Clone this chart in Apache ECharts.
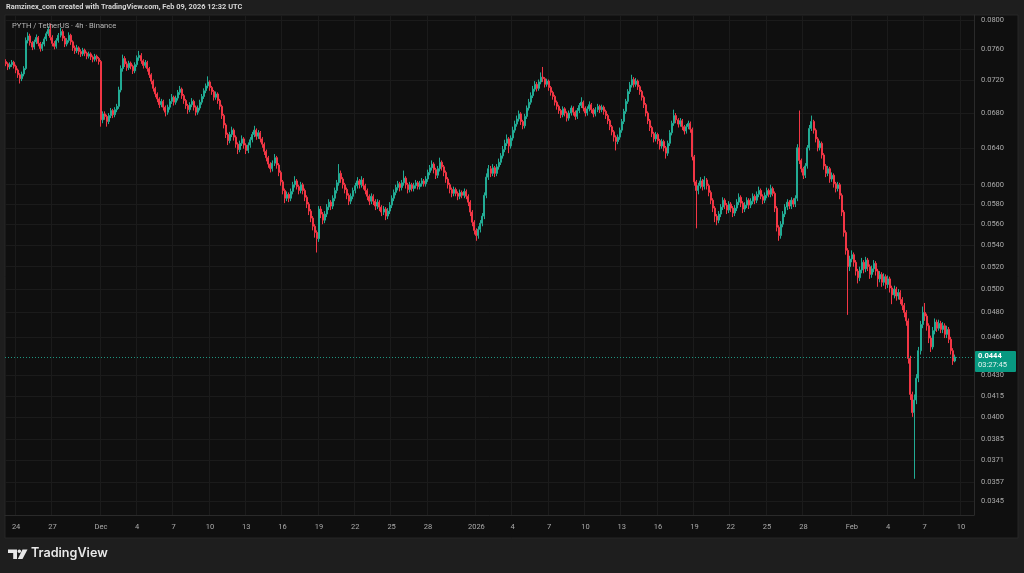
<!DOCTYPE html>
<html><head><meta charset="utf-8">
<script src="https://cdn.jsdelivr.net/npm/echarts@6/dist/echarts.min.js"></script>
<style>html,body{margin:0;padding:0;background:#1e1e1e;}#c{width:1024px;height:573px;}</style>
</head><body><div id="c"></div>
<script>
// ---- data ----
const startTimeUTC = Date.UTC(2025, 10, 23, 4); // first 4h candle
const slotCount = 480;
const firstOpen = 0.0744;
const closes = [.0741,.0737,.0740,.0743,.0738,.0733,.0727,.0722,.0728,.0735,
.0772,.0778,.0769,.0763,.0770,.0776,.0768,.0761,.0767,.0774,
.0781,.0787,.0776,.0768,.0764,.0772,.0779,.0784,.0775,.0767,
.0772,.0779,.0770,.0762,.0758,.0762,.0757,.0754,.0759,.0755,
.0751,.0754,.0750,.0747,.0751,.0748,.0744,.0672,.0679,.0676,
.0670,.0677,.0683,.0678,.0684,.0688,.0708,.0735,.0748,.0741,
.0736,.0742,.0738,.0732,.0740,.0749,.0752,.0745,.0739,.0743,
.0735,.0727,.0719,.0710,.0703,.0697,.0690,.0694,.0687,.0681,
.0687,.0694,.0699,.0693,.0698,.0705,.0709,.0701,.0695,.0689,
.0684,.0690,.0694,.0687,.0681,.0686,.0693,.0700,.0707,.0713,
.0718,.0711,.0706,.0699,.0703,.0695,.0688,.0677,.0666,.0655,
.0648,.0655,.0660,.0652,.0644,.0638,.0645,.0650,.0643,.0637,
.0643,.0649,.0655,.0660,.0653,.0657,.0650,.0644,.0636,.0629,
.0622,.0617,.0623,.0629,.0621,.0613,.0603,.0594,.0586,.0590,
.0586,.0593,.0600,.0604,.0598,.0594,.0600,.0594,.0587,.0580,
.0573,.0566,.0558,.0552,.0546,.0575,.0570,.0564,.0570,.0577,
.0582,.0578,.0586,.0594,.0602,.0612,.0606,.0600,.0595,.0589,
.0583,.0588,.0594,.0599,.0604,.0600,.0605,.0599,.0594,.0588,
.0583,.0588,.0583,.0578,.0582,.0577,.0572,.0575,.0568,.0573,
.0579,.0586,.0592,.0597,.0601,.0597,.0602,.0607,.0600,.0595,
.0600,.0596,.0599,.0602,.0598,.0601,.0604,.0601,.0606,.0613,
.0618,.0622,.0616,.0610,.0617,.0624,.0619,.0613,.0606,.0600,
.0595,.0591,.0595,.0591,.0588,.0592,.0589,.0593,.0588,.0582,
.0572,.0562,.0554,.0549,.0555,.0561,.0568,.0589,.0608,.0617,
.0612,.0618,.0612,.0619,.0624,.0631,.0638,.0645,.0650,.0642,
.0651,.0660,.0667,.0673,.0679,.0670,.0665,.0676,.0686,.0693,
.0701,.0709,.0715,.0710,.0718,.0724,.0722,.0715,.0719,.0711,
.0705,.0700,.0693,.0688,.0683,.0678,.0685,.0680,.0674,.0680,
.0686,.0681,.0676,.0683,.0689,.0693,.0686,.0680,.0685,.0690,
.0684,.0679,.0684,.0688,.0684,.0687,.0682,.0677,.0671,.0664,
.0658,.0652,.0647,.0652,.0660,.0670,.0682,.0694,.0706,.0714,
.0721,.0715,.0719,.0712,.0706,.0699,.0690,.0680,.0671,.0663,
.0656,.0650,.0655,.0648,.0642,.0647,.0640,.0634,.0645,.0657,
.0668,.0677,.0672,.0667,.0671,.0664,.0659,.0664,.0668,.0661,
.0630,.0603,.0594,.0599,.0604,.0598,.0605,.0599,.0592,.0584,
.0576,.0568,.0564,.0570,.0577,.0584,.0579,.0574,.0580,.0576,
.0571,.0576,.0582,.0587,.0581,.0575,.0579,.0584,.0579,.0583,
.0588,.0584,.0590,.0594,.0588,.0584,.0589,.0594,.0590,.0596,
.0591,.0576,.0557,.0549,.0560,.0570,.0577,.0582,.0578,.0584,
.0580,.0586,.0640,.0626,.0617,.0610,.0620,.0640,.0662,.0670,
.0660,.0650,.0640,.0645,.0632,.0620,.0612,.0617,.0606,.0610,
.0601,.0596,.0600,.0589,.0572,.0552,.0535,.0520,.0527,.0531,
.0524,.0516,.0510,.0517,.0524,.0518,.0526,.0520,.0513,.0518,
.0523,.0516,.0509,.0513,.0506,.0511,.0504,.0509,.0501,.0495,
.0500,.0494,.0497,.0491,.0486,.0480,.0473,.0443,.0416,.0403,
.0412,.0428,.0449,.0470,.0480,.0477,.0469,.0459,.0452,.0465,
.0472,.0467,.0471,.0466,.0469,.0462,.0466,.0458,.0449,.0441,
.0444];
const highs = [.0747,.0743,.0743,.0746,.0745,.0740,.0735,.0729,.0731,.0738,
.0776,.0783,.0781,.0771,.0773,.0780,.0778,.0770,.0770,.0777,
.0784,.0791,.0795,.0779,.0771,.0775,.0782,.0789,.0787,.0778,
.0775,.0783,.0781,.0772,.0765,.0766,.0764,.0760,.0762,.0761,
.0757,.0757,.0756,.0752,.0754,.0753,.0750,.0746,.0682,.0682,
.0678,.0680,.0686,.0685,.0687,.0691,.0712,.0739,.0753,.0751,
.0744,.0745,.0744,.0740,.0743,.0752,.0758,.0755,.0747,.0746,
.0745,.0737,.0729,.0721,.0712,.0705,.0699,.0697,.0696,.0689,
.0690,.0697,.0703,.0701,.0701,.0708,.0713,.0711,.0703,.0697,
.0691,.0693,.0698,.0696,.0689,.0689,.0696,.0703,.0710,.0716,
.0725,.0720,.0713,.0708,.0706,.0705,.0697,.0690,.0679,.0668,
.0657,.0658,.0664,.0662,.0654,.0646,.0648,.0654,.0652,.0645,
.0646,.0652,.0658,.0665,.0662,.0660,.0659,.0652,.0646,.0638,
.0631,.0624,.0626,.0633,.0631,.0623,.0615,.0605,.0596,.0593,
.0592,.0596,.0603,.0609,.0606,.0600,.0603,.0602,.0596,.0589,
.0582,.0575,.0568,.0560,.0554,.0578,.0578,.0572,.0573,.0580,
.0585,.0584,.0589,.0597,.0605,.0622,.0615,.0608,.0602,.0597,
.0591,.0591,.0597,.0602,.0608,.0606,.0609,.0607,.0601,.0596,
.0590,.0591,.0590,.0585,.0585,.0584,.0579,.0578,.0577,.0576,
.0582,.0589,.0595,.0600,.0604,.0603,.0605,.0615,.0609,.0602,
.0603,.0602,.0602,.0605,.0604,.0604,.0607,.0606,.0609,.0616,
.0621,.0626,.0624,.0618,.0620,.0629,.0626,.0621,.0615,.0608,
.0602,.0597,.0598,.0597,.0593,.0595,.0594,.0596,.0595,.0590,
.0584,.0574,.0564,.0556,.0558,.0564,.0571,.0592,.0612,.0621,
.0620,.0622,.0620,.0622,.0628,.0634,.0642,.0649,.0655,.0652,
.0654,.0664,.0671,.0677,.0683,.0681,.0672,.0679,.0689,.0697,
.0705,.0713,.0719,.0718,.0721,.0730,.0737,.0724,.0722,.0721,
.0713,.0707,.0702,.0695,.0690,.0685,.0688,.0687,.0682,.0683,
.0689,.0688,.0683,.0686,.0692,.0699,.0695,.0688,.0688,.0694,
.0692,.0686,.0687,.0691,.0690,.0690,.0689,.0684,.0679,.0673,
.0666,.0660,.0654,.0655,.0663,.0673,.0685,.0697,.0709,.0718,
.0727,.0724,.0723,.0721,.0714,.0708,.0701,.0692,.0682,.0673,
.0665,.0658,.0658,.0657,.0650,.0650,.0649,.0642,.0648,.0660,
.0671,.0684,.0680,.0674,.0674,.0673,.0666,.0667,.0671,.0670,
.0663,.0632,.0605,.0602,.0608,.0606,.0609,.0607,.0601,.0594,
.0586,.0578,.0570,.0573,.0580,.0587,.0586,.0581,.0583,.0582,
.0578,.0579,.0585,.0591,.0589,.0583,.0582,.0587,.0586,.0586,
.0591,.0590,.0593,.0598,.0596,.0590,.0592,.0597,.0596,.0600,
.0598,.0593,.0578,.0559,.0563,.0573,.0580,.0585,.0584,.0587,
.0586,.0589,.0644,.0683,.0628,.0619,.0623,.0643,.0666,.0677,
.0672,.0662,.0652,.0648,.0647,.0634,.0622,.0620,.0619,.0613,
.0612,.0603,.0603,.0602,.0591,.0574,.0554,.0537,.0530,.0535,
.0533,.0526,.0518,.0520,.0528,.0526,.0529,.0528,.0522,.0521,
.0526,.0525,.0518,.0516,.0515,.0514,.0513,.0512,.0511,.0503,
.0503,.0502,.0500,.0499,.0493,.0488,.0482,.0475,.0445,.0418,
.0416,.0431,.0452,.0473,.0485,.0488,.0479,.0471,.0461,.0468,
.0475,.0474,.0474,.0473,.0472,.0471,.0469,.0468,.0460,.0451,
.0446];
const lows = [.0738,.0733,.0734,.0737,.0735,.0729,.0723,.0716,.0719,.0725,
.0733,.0768,.0765,.0759,.0760,.0767,.0764,.0757,.0758,.0764,
.0771,.0778,.0772,.0764,.0760,.0761,.0769,.0776,.0771,.0763,
.0764,.0769,.0766,.0758,.0754,.0755,.0753,.0750,.0751,.0751,
.0747,.0748,.0746,.0743,.0744,.0744,.0740,.0664,.0668,.0672,
.0664,.0667,.0674,.0674,.0675,.0681,.0685,.0705,.0731,.0737,
.0732,.0733,.0734,.0728,.0729,.0737,.0745,.0741,.0735,.0736,
.0731,.0723,.0715,.0706,.0699,.0693,.0686,.0687,.0683,.0676,
.0678,.0684,.0691,.0689,.0690,.0695,.0702,.0697,.0691,.0685,
.0679,.0681,.0687,.0683,.0677,.0678,.0683,.0690,.0697,.0704,
.0710,.0707,.0702,.0695,.0696,.0691,.0684,.0673,.0662,.0651,
.0643,.0645,.0652,.0648,.0640,.0633,.0635,.0642,.0639,.0633,
.0634,.0640,.0646,.0652,.0649,.0650,.0646,.0640,.0632,.0625,
.0618,.0613,.0614,.0620,.0617,.0609,.0599,.0590,.0581,.0583,
.0582,.0583,.0590,.0597,.0595,.0590,.0591,.0590,.0583,.0576,
.0569,.0562,.0554,.0547,.0533,.0543,.0566,.0560,.0561,.0567,
.0574,.0574,.0575,.0583,.0591,.0599,.0602,.0596,.0591,.0585,
.0579,.0580,.0585,.0591,.0596,.0596,.0597,.0595,.0590,.0584,
.0579,.0580,.0579,.0574,.0575,.0573,.0568,.0569,.0564,.0565,
.0570,.0576,.0583,.0589,.0594,.0593,.0594,.0599,.0596,.0591,
.0592,.0593,.0593,.0596,.0595,.0595,.0598,.0598,.0598,.0603,
.0610,.0615,.0612,.0606,.0607,.0614,.0615,.0609,.0602,.0596,
.0591,.0587,.0588,.0588,.0584,.0585,.0586,.0586,.0585,.0578,
.0568,.0558,.0550,.0544,.0546,.0552,.0558,.0565,.0586,.0605,
.0608,.0609,.0608,.0609,.0616,.0621,.0628,.0635,.0642,.0634,
.0639,.0648,.0657,.0664,.0670,.0666,.0661,.0662,.0673,.0683,
.0690,.0698,.0706,.0706,.0707,.0715,.0718,.0711,.0712,.0707,
.0701,.0696,.0689,.0684,.0679,.0674,.0675,.0676,.0670,.0671,
.0677,.0677,.0672,.0673,.0680,.0686,.0682,.0676,.0677,.0682,
.0680,.0675,.0676,.0681,.0680,.0681,.0678,.0673,.0667,.0660,
.0654,.0647,.0637,.0644,.0649,.0657,.0667,.0679,.0691,.0703,
.0711,.0711,.0712,.0708,.0702,.0695,.0686,.0676,.0667,.0659,
.0652,.0646,.0647,.0644,.0638,.0639,.0636,.0628,.0631,.0642,
.0654,.0665,.0668,.0663,.0664,.0660,.0655,.0656,.0661,.0657,
.0626,.0599,.0556,.0590,.0596,.0594,.0595,.0595,.0588,.0580,
.0572,.0562,.0559,.0561,.0567,.0574,.0575,.0570,.0571,.0572,
.0567,.0568,.0573,.0579,.0577,.0571,.0572,.0576,.0575,.0576,
.0580,.0580,.0581,.0587,.0585,.0580,.0581,.0586,.0587,.0587,
.0588,.0572,.0553,.0544,.0546,.0557,.0567,.0574,.0575,.0575,
.0577,.0577,.0583,.0622,.0613,.0606,.0607,.0617,.0637,.0659,
.0656,.0646,.0636,.0637,.0628,.0616,.0608,.0609,.0602,.0603,
.0597,.0592,.0593,.0585,.0568,.0548,.0531,.0478,.0516,.0524,
.0520,.0512,.0505,.0507,.0514,.0514,.0515,.0516,.0509,.0510,
.0515,.0512,.0502,.0506,.0502,.0503,.0500,.0501,.0497,.0487,
.0492,.0490,.0491,.0487,.0482,.0476,.0469,.0439,.0412,.0400,
.0359,.0409,.0425,.0446,.0467,.0473,.0465,.0455,.0448,.0450,
.0462,.0464,.0465,.0463,.0463,.0459,.0459,.0455,.0446,.0438,
.0440];
const priceTicks = [0.0800,0.0760,0.0720,0.0680,0.0640,0.0600,0.0580,0.0560,0.0540,0.0520,0.0500,0.0480,0.0460,0.0430,0.0415,0.0400,0.0385,0.0371,0.0357,0.0345];
const dateTicks = ['2025-11-24','2025-11-27','2025-12-01','2025-12-04','2025-12-07','2025-12-10','2025-12-13','2025-12-16','2025-12-19','2025-12-22','2025-12-25','2025-12-28','2026-01-01','2026-01-04','2026-01-07','2026-01-10','2026-01-13','2026-01-16','2026-01-19','2026-01-22','2026-01-25','2026-01-28','2026-02-01','2026-02-04','2026-02-07','2026-02-10'];
const dateTickLabels = ['24','27','Dec','4','7','10','13','16','19','22','25','28','2026','4','7','10','13','16','19','22','25','28','Feb','4','7','10'];
const lastPrice = 0.0444;
const countdown = '03:27:45';
const headerText = 'Ramzinex_com created with TradingView.com, Feb 09, 2026 12:32 UTC';
const legendText = 'PYTH / TetherUS · 4h · Binance';

// ---- build ----
const pad = n => String(n).padStart(2, '0');
const categories = [];
for (let i = 0; i < slotCount; i++) {
  const d = new Date(startTimeUTC + i * 4 * 3600 * 1000);
  categories.push(d.getUTCFullYear() + '-' + pad(d.getUTCMonth() + 1) + '-' + pad(d.getUTCDate()) + ' ' + pad(d.getUTCHours()) + ':00');
}
const labelMap = new Map();
dateTicks.forEach((d, k) => labelMap.set(d + ' 00:00', dateTickLabels[k]));
const ohlc = closes.map((c, i) => [i === 0 ? firstOpen : closes[i - 1], c, lows[i], highs[i]]);

const UP = '#22ab94', DOWN = '#f23645';
const FONT = 'Roboto, "Noto Sans", sans-serif';
const chart = echarts.init(document.getElementById('c'), null, {renderer: 'canvas'});

const baseGraphic = [
  {id: 'panel', type: 'rect', z: -10, shape: {x: 5, y: 15, width: 1013, height: 523}, style: {fill: '#0f0f0f', stroke: '#262626', lineWidth: 1}},
  {id: 'hdr', type: 'text', z: 10, left: 6, top: 4, style: {text: headerText, fill: '#d6d6d6', font: 'bold 7.4px ' + FONT}},
  {id: 'leg', type: 'text', z: 10, left: 12, top: 22, style: {text: legendText, fill: '#b8b8b8', font: '7.6px ' + FONT}},
  {id: 'logoT', type: 'polygon', z: 10, shape: {points: [[8,549.5],[17,549.5],[17,559],[13.2,559],[13.2,553],[8,553]]}, style: {fill: '#e8e8e8'}},
  {id: 'logoDot', type: 'circle', z: 10, shape: {cx: 19.3, cy: 551.3, r: 1.8}, style: {fill: '#e8e8e8'}},
  {id: 'logoS', type: 'polygon', z: 10, shape: {points: [[22.5,549.5],[27.5,549.5],[22.5,559],[17.8,559]]}, style: {fill: '#e8e8e8'}},
  {id: 'logoTxt', type: 'text', z: 10, left: 31, top: 546.5, style: {text: 'TradingView', fill: '#e8e8e8', font: '600 12.6px Inter, ' + FONT}}
];

chart.setOption({
  backgroundColor: '#1e1e1e',
  animation: false,
  grid: {left: 5, right: 50, top: 15, bottom: 58},
  xAxis: {
    type: 'category', data: categories, boundaryGap: true,
    axisLine: {show: true, lineStyle: {color: '#2a2a2a'}},
    axisTick: {show: false},
    axisLabel: {interval: (i, v) => labelMap.has(v), formatter: v => labelMap.get(v) || '', color: '#ababab', fontSize: 7.5, fontFamily: FONT, margin: 8},
    splitLine: {show: true, interval: (i, v) => labelMap.has(v), lineStyle: {color: '#1b1b1b', width: 1}}
  },
  yAxis: {
    type: 'log', logBase: 10, position: 'right', min: 0.03370, max: 0.08070,
    axisLine: {show: true, lineStyle: {color: '#2a2a2a'}},
    axisTick: {show: false, customValues: priceTicks},
    axisLabel: {customValues: priceTicks, formatter: v => Number(v).toFixed(4), color: '#ababab', fontSize: 7.5, fontFamily: FONT, margin: 7},
    splitLine: {show: true, lineStyle: {color: '#1b1b1b', width: 1}}
  },
  series: [{
    type: 'candlestick', data: ohlc, barWidth: 1.5,
    itemStyle: {color: UP, color0: DOWN, borderColor: UP, borderColor0: DOWN, borderWidth: 1}
  }],
  graphic: baseGraphic
});

const py = Math.round(chart.convertToPixel({yAxisIndex: 0}, lastPrice));
chart.setOption({
  graphic: baseGraphic.concat([
    {id: 'pline', type: 'line', z: 5, shape: {x1: 5, y1: py + 0.5, x2: 974, y2: py + 0.5}, style: {stroke: UP, lineWidth: 1, lineDash: [1, 2], opacity: 0.85}},
    {id: 'pbox', type: 'rect', z: 20, shape: {x: 975, y: py - 6, width: 41, height: 21, r: 1}, style: {fill: '#089981'}},
    {id: 'ptxt', type: 'text', z: 21, left: 978, top: py - 5, style: {text: lastPrice.toFixed(4), fill: '#ffffff', font: 'bold 7.5px ' + FONT}},
    {id: 'ctxt', type: 'text', z: 21, left: 978, top: py + 4, style: {text: countdown, fill: '#e6f4f1', font: '7.5px ' + FONT}}
  ])
});
</script>
</body></html>
